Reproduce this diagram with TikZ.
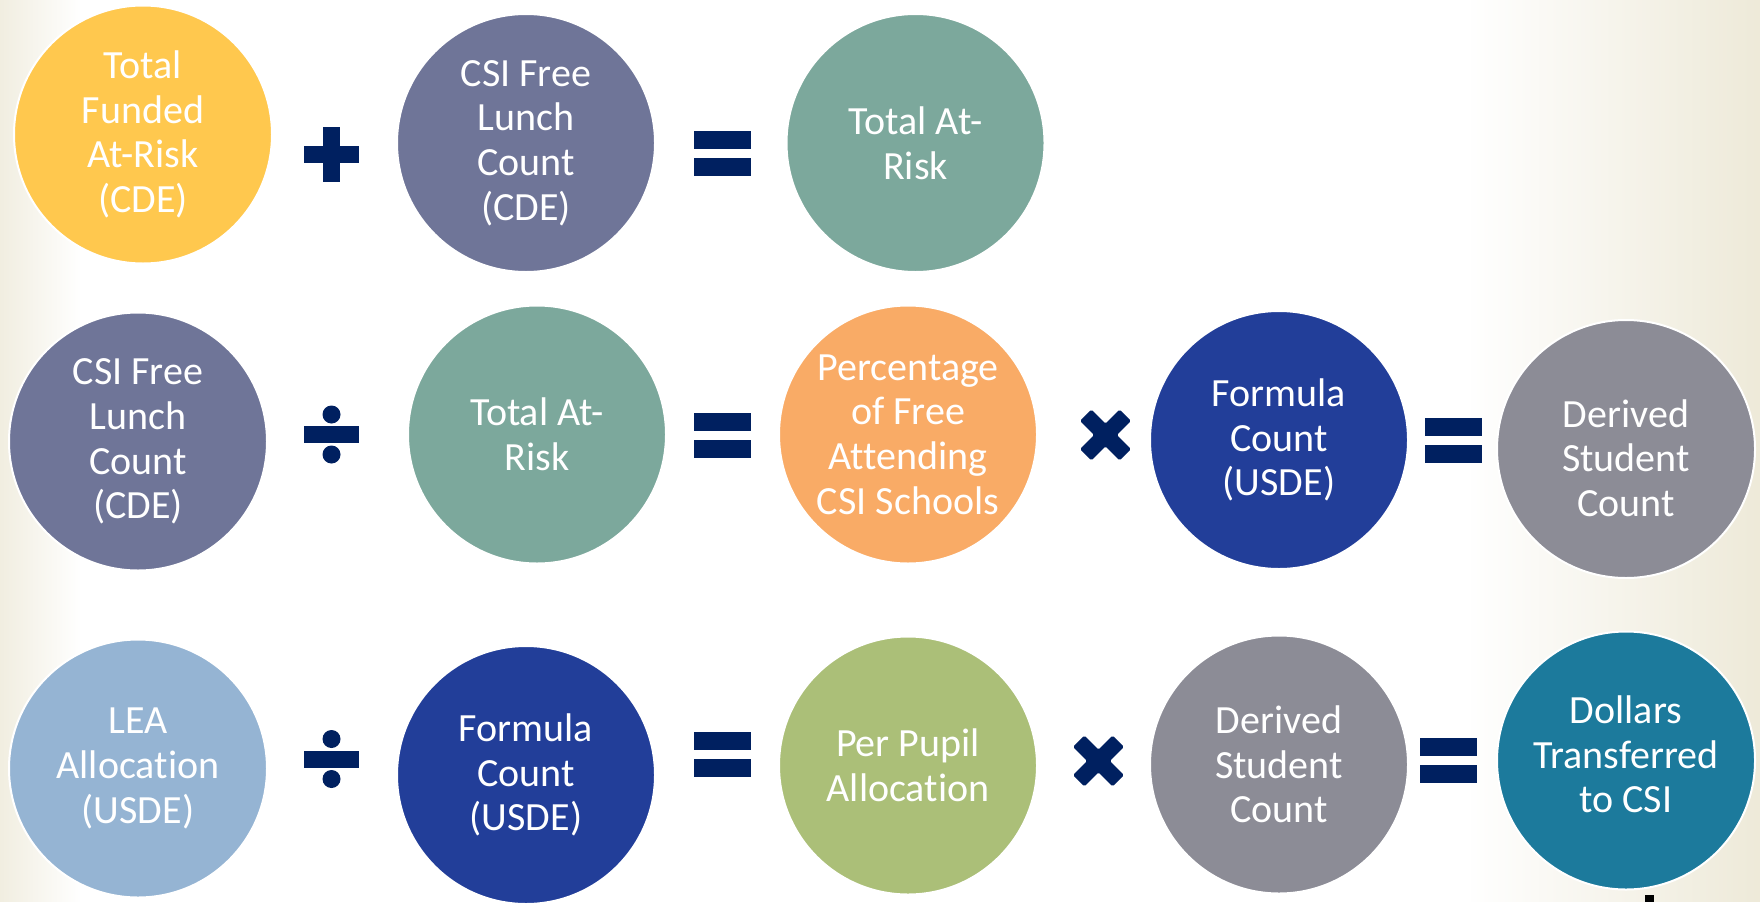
\documentclass[tikz,border=0pt]{standalone}
\usepackage{fontspec}
\setmainfont{Carlito}[Ligatures=NoCommon]
\usetikzlibrary{fadings}
\definecolor{navy}{HTML}{002060}
\definecolor{beige}{HTML}{EEEAD9}
\definecolor{cyellow}{HTML}{FFC84E}
\definecolor{cslate}{HTML}{6F7598}
\definecolor{cteal}{HTML}{7CA89C}
\definecolor{corange}{HTML}{F9AB66}
\definecolor{cblue}{HTML}{223E99}
\definecolor{cgray}{HTML}{8C8C96}
\definecolor{clight}{HTML}{95B4D3}
\definecolor{cgreen}{HTML}{ABBF78}
\definecolor{cpetrol}{HTML}{1C7A9C}
\begin{document}
\begin{tikzpicture}[x=1pt,y=-1pt,
  disc/.style={circle, minimum size=258pt, inner sep=0pt, draw=white, line width=2pt,
    text=white, align=center, font=\fontsize{40}{44.6}\selectfont},
  lbl/.style={text=white, align=center, inner sep=0pt, font=\fontsize{40}{44.6}\selectfont},
  plussign/.pic={\fill[navy] (-27.5,-8.5) rectangle (27.5,8.5);
                 \fill[navy] (-8.5,-27.5) rectangle (8.5,27.5);},
  eqsign/.pic={\fill[navy] (-28.5,-22.5) rectangle (28.5,-4.5);
               \fill[navy] (-28.5,4.5) rectangle (28.5,22.5);},
  divsign/.pic={\fill[navy] (-27.5,-8.5) rectangle (27.5,8.5);
                \fill[navy] (0,-20) circle (9);
                \fill[navy] (0,20) circle (9);},
  timessign/.pic={\begin{scope}[rotate=45]
                 \fill[navy, rounded corners=1.5pt] (-28,-8) -- (-8,-8) -- (-8,-28) -- (8,-28) -- (8,-8) -- (28,-8) -- (28,8) -- (8,8) -- (8,28) -- (-8,28) -- (-8,8) -- (-28,8) -- cycle;
                 \end{scope}}
]
\useasboundingbox (0,0) rectangle (1760,902);
% background
\fill[white] (0,0) rectangle (1760,902);
\fill[beige, opacity=0.8, path fading=east] (0,0) rectangle (80,902);
\fill[beige, path fading=west] (1470,0) rectangle (1760,902);

% row 1
\node[disc, fill=cyellow] (a1) at (143,134.5) {Total\\Funded\\At-Risk\\(CDE)};
\pic at (331.5,154.5) {plussign};
\node[disc, fill=cslate] (a2) at (526,143) {CSI Free\\Lunch\\Count\\(CDE)};
\pic at (722.5,153.5) {eqsign};
\node[disc, fill=cteal] (a3) at (915.5,143) {Total At-\\Risk};

% row 2
\node[disc, fill=cslate] (b1) at (138,441.5) {CSI Free\\Lunch\\Count\\(CDE)};
\pic at (331.5,434.5) {divsign};
\node[disc, fill=cteal] (b2) at (537,434.5) {Total At-\\Risk};
\pic at (722.5,435) {eqsign};
\node[disc, fill=corange] (b3) at (908,434.5) {Percentage\\of Free\\Attending\\CSI Schools};
\pic at (1105.5,435) {timessign};
\node[disc, fill=cblue] (b4) at (1279,440) {Formula\\Count\\(USDE)};
\pic at (1453,440) {eqsign};
\node[disc, fill=cgray] (b5) at (1626,449) {};
\node[lbl] (b5t) at ([yshift=-9pt]b5.center) {Derived\\Student\\Count};

% row 3
\node[disc, fill=clight] (c1) at (138,768.5) {LEA\\Allocation\\(USDE)};
\pic at (331.5,759) {divsign};
\node[disc, fill=cblue] (c2) at (526,775) {Formula\\Count\\(USDE)};
\pic at (722.5,754) {eqsign};
\node[disc, fill=cgreen] (c3) at (908,765.5) {Per Pupil\\Allocation};
\pic at (1098.5,761) {timessign};
\node[disc, fill=cgray] (c4) at (1279,764.5) {Derived\\Student\\Count};
\pic at (1448,760.5) {eqsign};
\node[disc, fill=cpetrol] (c5) at (1626,760.5) {};
\node[lbl] (c5t) at ([yshift=6pt]c5.center) {Dollars\\Transferred\\to CSI};

% small cut-off mark at the bottom
\fill[black] (1645,895) rectangle (1654,902);
\end{tikzpicture}
\end{document}
